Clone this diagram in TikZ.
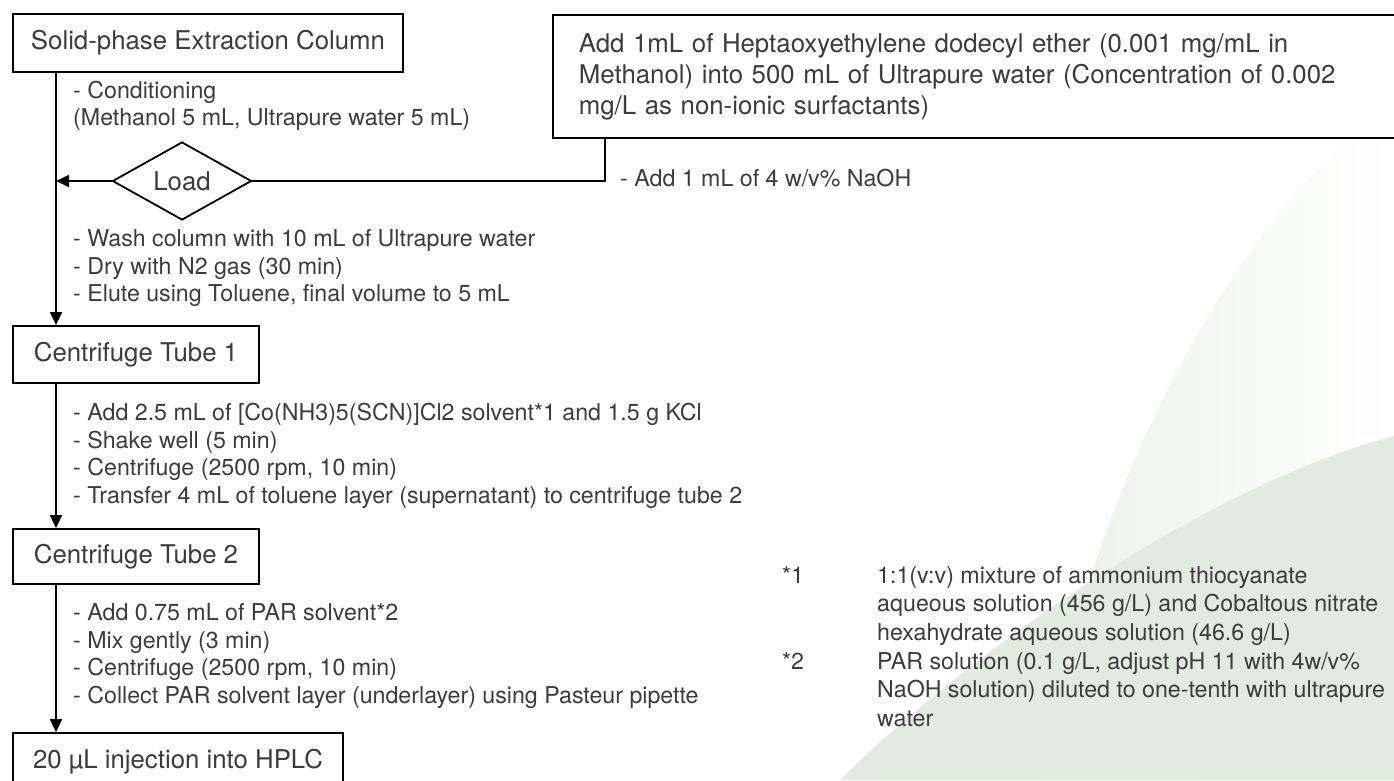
\documentclass[tikz,border=0pt]{standalone}
\usepackage{fontspec}
\setmainfont{TeX Gyre Heros}
\usepackage{xcolor}
\usepackage{tikz}
\usetikzlibrary{positioning,shapes.geometric,arrows.meta}
\definecolor{ink}{HTML}{3C3C3C}
\definecolor{leafpale}{HTML}{EAF1E8}
\definecolor{leafdeep}{HTML}{E2EBDF}

\begin{document}
\begin{tikzpicture}[x=1pt, y=-1pt,
    stepbox/.style={draw, line width=1.8pt, fill=white, text=ink, inner sep=0pt,
      font=\fontsize{25.8}{31}\selectfont},
    note/.style={anchor=west, align=left, inner sep=0pt, text=ink,
      font=\fontsize{23.2}{27.5}\selectfont},
    flow/.style={line width=1.8pt, -{Triangle[length=13pt, width=12pt]}},
    link/.style={line width=1.8pt}]
        \useasboundingbox (0,0) rectangle (1394,780);
        \shade[left color=leafpale, right color=white] (1394,112) .. controls (1250,190) and (1090,480) .. (1040,780) -- (1394,780) -- cycle;
        \fill[leafdeep] (1394,436) .. controls (1190,490) and (950,670) .. (840,780) -- (1394,780) -- cycle;

        \node[stepbox, minimum width=390pt, minimum height=58pt] (spe) at (208,43) {Solid-phase Extraction Column};
        \node[stepbox, anchor=north west, minimum width=870pt, minimum height=123pt,
          text width=818pt, align=left] (mix) at (552,14)
          {Add 1mL of Heptaoxyethylene dodecyl ether (0.001 mg/mL in\\
           Methanol) into 500 mL of Ultrapure water (Concentration of 0.002\\
           mg/L as non-ionic surfactants)};
        \node[stepbox, diamond, minimum width=139pt, minimum height=78pt] (load) at (182,181) {Load};
        \node[stepbox, minimum width=246pt, minimum height=57pt] (tube1) at (136,354.5) {Centrifuge Tube 1};
        \node[stepbox, minimum width=246pt, minimum height=55pt] (tube2) at (136,556.5) {Centrifuge Tube 2};
        \node[stepbox, minimum width=330pt, minimum height=57pt] (hplc) at (178,761.5) {20 µL injection into HPLC};

        \coordinate (spine) at (56,0);
        \draw[flow] (spe.south -| spine) -- (tube1.north -| spine);
        \draw[flow] (load.west) -- (load.west -| spine);
        \draw[link] (load.east) -| ([xshift=53pt]mix.south west);
        \draw[flow] (tube1.south -| spine) -- (tube2.north -| spine);
        \draw[flow] (tube2.south -| spine) -- (hplc.north -| spine);

        \node[note] (cond) at (73,106) {- Conditioning\\(Methanol 5 mL, Ultrapure water 5 mL)};
        \node[note] (naoh) at (620,178) {- Add 1 mL of 4 w/v\% NaOH};
        \node[note] (wash) at (73,268.5) {- Wash column with 10 mL of Ultrapure water\\- Dry with N2 gas (30 min)\\- Elute using Toluene, final volume to 5 mL};
        \node[note] (shake) at (73,456) {- Add 2.5 mL of [Co(NH3)5(SCN)]Cl2 solvent*1 and 1.5 g KCl\\- Shake well (5 min)\\- Centrifuge (2500 rpm, 10 min)\\- Transfer 4 mL of toluene layer (supernatant) to centrifuge tube 2};
        \node[note] (mixpar) at (73,656) {- Add 0.75 mL of PAR solvent*2\\- Mix gently (3 min)\\- Centrifuge (2500 rpm, 10 min)\\- Collect PAR solvent layer (underlayer) using Pasteur pipette};

        \node[note, font=\fontsize{23.2}{28.6}\selectfont] (fntext) at (877,646.5)
          {1:1(v:v) mixture of ammonium thiocyanate\\aqueous solution (456 g/L) and Cobaltous nitrate\\hexahydrate aqueous solution (46.6 g/L)\\PAR solution (0.1 g/L, adjust pH 11 with 4w/v\%\\NaOH solution) diluted to one-tenth with ultrapure\\water};
        \node[note] (fnone) at (782,575) {*1};
        \node[note] (fntwo) at (782,661) {*2};
      \end{tikzpicture}
\end{document}
